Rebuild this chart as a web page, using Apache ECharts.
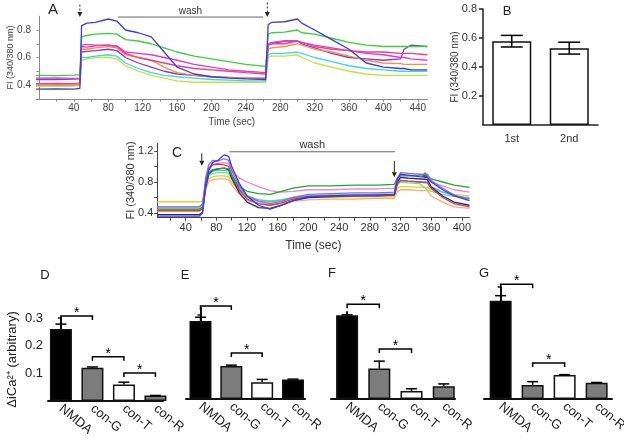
<!DOCTYPE html>
<html><head><meta charset="utf-8">
<script src="https://cdn.jsdelivr.net/npm/echarts@6/dist/echarts.min.js"></script>
<style>html,body{margin:0;padding:0;background:#fff}#c{width:624px;height:440px}</style>
</head><body><div id="c"></div>
<script>
// ---------- Panel A : time courses ----------
const tA = [-4, 20, 40, 47, 49, 55, 65, 80, 90, 100, 115, 130, 145, 160, 180, 200, 220, 240, 263, 266, 270, 285, 300, 305, 320, 340, 360, 380, 400, 420, 424, 432, 451];
const aBlue    = [0.37,0.372,0.37,0.375, 0.83,0.85,0.855,0.88,0.865,0.80,0.78,0.75,0.64,0.53,0.48,0.46,0.45,0.445,0.44, 0.84,0.855,0.86,0.88,0.85,0.80,0.73,0.66,0.56,0.53,0.52,0.52,0.51,0.51];
const aGreen   = [0.47,0.468,0.472,0.475, 0.75,0.76,0.77,0.775,0.77,0.73,0.72,0.70,0.67,0.64,0.61,0.59,0.57,0.55,0.535, 0.77,0.78,0.785,0.80,0.78,0.77,0.74,0.71,0.69,0.68,0.68,0.68,0.68,0.68];
const aMagenta = [0.45,0.452,0.448,0.45, 0.69,0.695,0.69,0.69,0.685,0.64,0.63,0.62,0.60,0.58,0.55,0.53,0.51,0.50,0.49, 0.70,0.71,0.72,0.72,0.71,0.69,0.67,0.65,0.63,0.62,0.60,0.60,0.59,0.58];
const aRed     = [0.41,0.412,0.41,0.415, 0.68,0.675,0.685,0.69,0.68,0.63,0.60,0.58,0.56,0.54,0.52,0.51,0.50,0.49,0.48, 0.69,0.70,0.70,0.72,0.71,0.68,0.66,0.65,0.64,0.64,0.63,0.63,0.63,0.62];
const aOrange  = [0.40,0.402,0.40,0.405, 0.66,0.66,0.67,0.68,0.67,0.62,0.60,0.58,0.53,0.49,0.47,0.46,0.455,0.45,0.45, 0.66,0.67,0.68,0.70,0.69,0.66,0.64,0.61,0.58,0.56,0.555,0.55,0.55,0.55];
const aPurple  = [0.44,0.44,0.442,0.445, 0.64,0.645,0.65,0.66,0.65,0.60,0.56,0.53,0.50,0.48,0.47,0.46,0.455,0.45,0.45, 0.69,0.70,0.72,0.72,0.70,0.67,0.63,0.60,0.59,0.58,0.59,0.66,0.69,0.68];
const aCyan    = [0.40,0.398,0.40,0.402, 0.60,0.60,0.61,0.62,0.61,0.56,0.52,0.49,0.47,0.46,0.45,0.44,0.435,0.43,0.43, 0.62,0.63,0.63,0.64,0.63,0.60,0.57,0.54,0.52,0.51,0.50,0.50,0.50,0.50];
const aYellow  = [0.39,0.39,0.392,0.395, 0.58,0.59,0.60,0.60,0.59,0.54,0.50,0.47,0.45,0.43,0.42,0.42,0.42,0.42,0.42, 0.60,0.61,0.61,0.62,0.60,0.56,0.53,0.50,0.48,0.47,0.47,0.47,0.47,0.47];
const aXLabels = [40,80,120,160,200,240,280,320,360,400,440];
const aYLabels = [0.4,0.6,0.8];
const aArrows = [[47,0.985,0.895,1],[265,1.0,0.895,1]];
const aWash = [[91,260,0.894]];

// ---------- Panel B ----------
const bCats = ['1st','2nd'];
const bMeans = [0.578, 0.530];
const bErr = [0.04, 0.041];
const bYLabels = [0.2,0.4,0.6,0.8];

// ---------- Panel C ----------
const tC = [3, 30, 58, 62, 66, 70, 75, 82, 90, 96, 100, 110, 120, 135, 150, 165, 180, 200, 230, 260, 290, 312, 316, 320, 330, 345, 355, 360, 375, 390, 410];
const cBlue   = [0.36,0.36,0.36,0.40,0.75,0.95,1.05,1.08,1.15,1.13,1.00,0.78,0.62,0.50,0.45,0.50,0.56,0.61,0.62,0.63,0.63,0.64,0.84,0.90,0.89,0.87,0.86,0.80,0.70,0.62,0.56];
const cViolet = [0.48,0.48,0.48,0.52,0.85,1.02,1.08,1.07,1.10,1.08,0.95,0.75,0.62,0.55,0.52,0.55,0.60,0.64,0.65,0.66,0.66,0.67,0.85,0.92,0.91,0.90,0.90,0.82,0.72,0.63,0.58];
const cPink   = [0.45,0.45,0.45,0.48,0.78,0.95,1.02,1.04,1.05,1.04,0.95,0.85,0.80,0.74,0.69,0.67,0.68,0.70,0.70,0.71,0.71,0.72,0.82,0.86,0.85,0.84,0.84,0.80,0.75,0.70,0.67];
const cRed    = [0.43,0.43,0.43,0.46,0.80,0.98,1.02,1.03,1.02,1.00,0.90,0.70,0.58,0.52,0.50,0.53,0.58,0.61,0.62,0.62,0.63,0.63,0.78,0.82,0.81,0.80,0.79,0.72,0.60,0.52,0.48];
const cGreen  = [0.45,0.45,0.45,0.48,0.78,0.92,0.96,0.97,0.98,0.97,0.88,0.74,0.68,0.65,0.64,0.68,0.72,0.75,0.75,0.76,0.76,0.77,0.85,0.88,0.88,0.88,0.88,0.84,0.80,0.76,0.73];
const cCyan   = [0.48,0.48,0.48,0.51,0.78,0.90,0.94,0.95,0.95,0.94,0.86,0.72,0.62,0.57,0.55,0.57,0.60,0.62,0.63,0.63,0.64,0.64,0.78,0.82,0.81,0.80,0.80,0.74,0.67,0.62,0.59];
const cYellow = [0.545,0.545,0.545,0.56,0.74,0.84,0.87,0.88,0.88,0.87,0.80,0.68,0.60,0.57,0.56,0.57,0.58,0.60,0.60,0.61,0.61,0.61,0.72,0.74,0.74,0.73,0.73,0.70,0.67,0.64,0.62];
const cOrange = [0.42,0.42,0.42,0.45,0.70,0.80,0.83,0.84,0.84,0.83,0.76,0.64,0.56,0.52,0.50,0.52,0.55,0.57,0.58,0.58,0.59,0.59,0.68,0.70,0.70,0.69,0.69,0.62,0.54,0.48,0.46];
const cLime   = [0.44,0.44,0.44,0.47,0.76,0.88,0.91,0.92,0.92,0.91,0.84,0.70,0.60,0.55,0.54,0.56,0.59,0.62,0.63,0.64,0.64,0.65,0.76,0.80,0.79,0.78,0.70,0.68,0.64,0.61,0.60];
const cNavy   = [0.38,0.38,0.38,0.41,0.72,0.90,0.95,0.97,0.98,0.96,0.85,0.66,0.54,0.47,0.46,0.50,0.56,0.60,0.61,0.62,0.62,0.63,0.80,0.86,0.85,0.84,0.83,0.74,0.62,0.54,0.50];
const cXLabels = [40,80,120,160,200,240,280,320,360,400];
const cYLabels = [0.4,0.8,1.2];
const cArrows = [[61,1.17,1.01,0],[312,1.07,0.86,0],[352,0.84,0.93,0]];
const cWash = [[97,313,1.19]];

// ---------- Panels D-G ----------
const barCats = ['NMDA','con-G','con-T','con-R'];
const dVals = [0.26, 0.12, 0.06, 0.02];   const dErr = [0.018, 0.003, 0.008, 0];
const eVals = [0.279, 0.118, 0.06, 0.07]; const eErr = [0.013, 0.003, 0.01, 0.001];
const fVals = [0.327, 0.119, 0.031, 0.05]; const fErr = [0.002, 0.029, 0.009, 0.009];
const gVals = [0.351, 0.05, 0.086, 0.058]; const gErr = [0.018, 0.012, 0.001, 0.001];
const dSig = [[0,1,0.307],[1,2,0.16],[2,3,0.101]];
const eSig = [[0,1,0.332],[1,2,0.164]];
const fSig = [[0,1,0.37],[1,2,0.195]];
const gSig = [[0,1,0.41],[1,2,0.129]];
const dFill = ['#000000','#7c7c7c','#ffffff','#7c7c7c'];
const eFill = ['#000000','#7c7c7c','#ffffff','#000000'];
const fFill = ['#000000','#7c7c7c','#ffffff','#7c7c7c'];
const gFill = ['#000000','#7c7c7c','#ffffff','#7c7c7c'];

const FONT = 'Liberation Sans, Arial, sans-serif';
const chart = echarts.init(document.getElementById('c'), null, {renderer:'canvas'});

function arrowItem(params, api){
  const p1 = api.coord([api.value(0), api.value(1)]);
  const p2 = api.coord([api.value(0), api.value(2)]);
  const dashed = api.value(3) === 1;
  const dir = p2[1] > p1[1] ? 1 : -1;
  const h = 5, w = 2.5;
  return {type:'group', children:[
    {type:'line', shape:{x1:p1[0],y1:p1[1],x2:p2[0],y2:p2[1]-dir*h}, style:{stroke:'#222', lineWidth:1, lineDash: dashed ? [2,2] : null}},
    {type:'polygon', shape:{points:[[p2[0]-w,p2[1]-dir*h],[p2[0]+w,p2[1]-dir*h],[p2[0],p2[1]]]}, style:{fill:'#222'}}
  ]};
}
function washFactory(fs){
  return function(params, api){
    const p1 = api.coord([api.value(0), api.value(2)]);
    const p2 = api.coord([api.value(1), api.value(2)]);
    return {type:'group', children:[
      {type:'line', shape:{x1:p1[0],y1:p1[1],x2:p2[0],y2:p2[1]}, style:{stroke:'#666', lineWidth:1}},
      {type:'text', x:(p1[0]+p2[0])/2, y:p1[1]-1, style:{text:'wash', font: fs+'px '+FONT, align:'center', verticalAlign:'bottom', textAlign:'center', textVerticalAlign:'bottom', fill:'#333'}}
    ]};
  };
}
function errFactory(capW, both){
  return function(params, api){
    const x = api.value(0), v = api.value(1), e = api.value(2);
    const top = api.coord([x, v + e]);
    const bot = api.coord([x, both ? v - e : v]);
    const ch = [
      {type:'line', shape:{x1:top[0],y1:top[1],x2:bot[0],y2:bot[1]}, style:{stroke:'#000', lineWidth:1.5}},
      {type:'line', shape:{x1:top[0]-capW/2,y1:top[1],x2:top[0]+capW/2,y2:top[1]}, style:{stroke:'#000', lineWidth:1.5}}
    ];
    if (both) ch.push({type:'line', shape:{x1:bot[0]-capW/2,y1:bot[1],x2:bot[0]+capW/2,y2:bot[1]}, style:{stroke:'#000', lineWidth:1.5}});
    return {type:'group', children: ch};
  };
}
function bracketItem(params, api){
  const y = api.value(2);
  const p1 = api.coord([api.value(0), y]);
  const p2 = api.coord([api.value(1), y]);
  const d = 4;
  return {type:'group', children:[
    {type:'polyline', shape:{points:[[p1[0],p1[1]+d],[p1[0],p1[1]],[p2[0],p2[1]],[p2[0],p2[1]+d]]}, style:{stroke:'#000', lineWidth:1.5, fill:null}},
    {type:'text', x:(p1[0]+p2[0])/2, y:p1[1]-3, style:{text:'*', font:'14px '+FONT, align:'center', verticalAlign:'middle', textAlign:'center', textVerticalAlign:'middle', fill:'#000'}}
  ]};
}

const gridBase = {containLabel:false, outerBoundsMode:'none'};
const grids = [
  Object.assign({left:36, top:16.25, width:391.3, height:82.5}, gridBase),   // A
  Object.assign({left:483, top:9, width:115, height:116}, gridBase),          // B
  Object.assign({left:157.3, top:143.25, width:312.2, height:74.4}, gridBase),// C
  Object.assign({left:48, top:318, width:115, height:83}, gridBase),          // D
  Object.assign({left:186, top:308, width:119, height:91}, gridBase),         // E
  Object.assign({left:331, top:312, width:124, height:87}, gridBase),         // F
  Object.assign({left:484, top:287, width:128, height:112}, gridBase)         // G
];

const xAxes = [];
const yAxes = [];
// A
xAxes.push({gridIndex:0, type:'value', min:-4, max:451,
  axisLine:{lineStyle:{color:'#8a8a8a', width:1}}, splitLine:{show:false},
  axisTick:{customValues:[20,40,60,80,100,120,140,160,180,200,220,240,260,280,300,320,340,360,380,400,420,440], length:3, lineStyle:{color:'#8a8a8a'}},
  axisLabel:{customValues:aXLabels, fontSize:10, color:'#444', margin:4, fontFamily:FONT},
  name:'Time (sec)', nameLocation:'middle', nameGap:18, nameMoveOverlap:false, nameTextStyle:{fontSize:10, color:'#444', fontFamily:FONT}});
yAxes.push({gridIndex:0, type:'value', min:0.3, max:0.9,
  axisLine:{show:true, lineStyle:{color:'#8a8a8a', width:1}}, splitLine:{show:false},
  axisTick:{show:true, customValues:[0.3,0.4,0.5,0.6,0.7,0.8], length:3, lineStyle:{color:'#8a8a8a'}},
  axisLabel:{customValues:aYLabels, fontSize:10, color:'#444', margin:5, fontFamily:FONT, formatter:v=>v.toFixed(1)},
  name:'FI (340/380 nm)', nameLocation:'middle', nameGap:21, nameMoveOverlap:false, nameTextStyle:{fontSize:9, color:'#444', fontFamily:FONT}});
// B
xAxes.push({gridIndex:1, type:'category', data:bCats,
  axisLine:{lineStyle:{color:'#222', width:1.5}}, axisTick:{show:false},
  axisLabel:{fontSize:11, color:'#333', margin:8, fontFamily:FONT}});
yAxes.push({gridIndex:1, type:'value', min:0, max:0.8,
  axisLine:{show:true, lineStyle:{color:'#222', width:1.5}}, splitLine:{show:false},
  axisTick:{show:true, customValues:bYLabels, length:4, lineStyle:{color:'#222', width:1.5}},
  axisLabel:{customValues:bYLabels, fontSize:11, color:'#333', margin:6, fontFamily:FONT, formatter:v=>v.toFixed(1)},
  name:'FI (340/380 nm)', nameLocation:'middle', nameGap:23, nameMoveOverlap:false, nameTextStyle:{fontSize:10, color:'#333', fontFamily:FONT}});
// C
xAxes.push({gridIndex:2, type:'value', min:3, max:410,
  axisLine:{lineStyle:{color:'#444', width:1}}, splitLine:{show:false},
  axisTick:{customValues:[20,40,60,80,100,120,140,160,180,200,220,240,260,280,300,320,340,360,380,400], length:3, lineStyle:{color:'#444'}},
  axisLabel:{customValues:cXLabels, fontSize:11, color:'#333', margin:5, fontFamily:FONT},
  name:'Time (sec)', nameLocation:'middle', nameGap:22, nameMoveOverlap:false, nameTextStyle:{fontSize:12, color:'#333', fontFamily:FONT}});
yAxes.push({gridIndex:2, type:'value', min:0.34, max:1.3,
  axisLine:{show:true, lineStyle:{color:'#444', width:1}}, splitLine:{show:false},
  axisTick:{show:true, customValues:[0.4,0.6,0.8,1.0,1.2], length:3, lineStyle:{color:'#444'}},
  axisLabel:{customValues:cYLabels, fontSize:11, color:'#333', margin:4, fontFamily:FONT, formatter:v=>v.toFixed(1)},
  name:'FI (340/380 nm)', nameLocation:'middle', nameGap:21, nameMoveOverlap:false, nameTextStyle:{fontSize:11, color:'#333', fontFamily:FONT}});
// D-G
const barPanels = [
  {min:-0.41, max:3.24, ymax:0.3, ticks:[0.1,0.2,0.3], labels:true},
  {min:-0.47, max:3.39, ymax:0.325, ticks:[0.1,0.2,0.3], labels:false},
  {min:-0.5, max:3.35, ymax:0.34, ticks:[0.1,0.2,0.3], labels:false},
  {min:-0.52, max:3.48, ymax:0.4, ticks:[0.1,0.2,0.3,0.4], labels:false}
];
barPanels.forEach((p, i) => {
  const g = 3 + i;
  xAxes.push({gridIndex:g, type:'value', min:p.min, max:p.max,
    axisLine:{lineStyle:{color:'#111', width:2}}, splitLine:{show:false}, axisTick:{show:false},
    axisLabel:{customValues:[0,1,2,3], formatter:v=>barCats[Math.round(v)], rotate:-40, fontSize:13, color:'#222', margin:6, fontFamily:FONT}});
  const ya = {gridIndex:g, type:'value', min:0, max:p.ymax,
    axisLine:{show:true, lineStyle:{color:'#111', width:2}}, splitLine:{show:false},
    axisTick:{show:true, customValues:p.ticks, length:3, lineStyle:{color:'#111', width:1.5}},
    axisLabel:{show:p.labels, customValues:p.ticks, fontSize:13, color:'#222', margin:5, fontFamily:FONT, formatter:v=>v.toFixed(1)}};
  if (p.labels) {
    ya.name = 'ΔiCa²⁺ (arbitrary)';
    ya.nameLocation = 'middle'; ya.nameGap = 29; ya.nameMoveOverlap = false;
    ya.nameTextStyle = {fontSize:13, color:'#222', fontFamily:FONT};
  }
  yAxes.push(ya);
});

const series = [];
const aLines = [[aYellow,'#c3e33a'],[aCyan,'#3fd6ea'],[aPurple,'#8a36cf'],[aOrange,'#f3913c'],[aRed,'#f0407e'],[aMagenta,'#e03ad6'],[aGreen,'#3ccf3c'],[aBlue,'#3c3cd8']];
aLines.forEach(([arr,col]) => series.push({type:'line', xAxisIndex:0, yAxisIndex:0, showSymbol:false, silent:true,
  data: tA.map((t,i)=>[t, arr[i]]), lineStyle:{color:col, width:1.3}, itemStyle:{color:col}}));
series.push({type:'custom', xAxisIndex:0, yAxisIndex:0, clip:false, silent:true, renderItem:arrowItem, data:aArrows, encode:{x:0, y:[1,2]}});
series.push({type:'custom', xAxisIndex:0, yAxisIndex:0, clip:false, silent:true, renderItem:washFactory(10), data:aWash, encode:{x:[0,1], y:2}});

series.push({type:'bar', xAxisIndex:1, yAxisIndex:1, barWidth:39, silent:true, data:bMeans,
  itemStyle:{color:'#ffffff', borderColor:'#111', borderWidth:1.5}});
series.push({type:'custom', xAxisIndex:1, yAxisIndex:1, clip:false, silent:true, renderItem:errFactory(22, true),
  data:bMeans.map((v,i)=>[i, v, bErr[i]]), encode:{x:0, y:1}, z:5});

const cLines = [[cOrange,'#f6b070'],[cYellow,'#e8cc36'],[cLime,'#78e078'],[cCyan,'#3cc4ea'],[cPink,'#ee82dc'],[cNavy,'#262690'],[cRed,'#e23434'],[cGreen,'#22a82a'],[cViolet,'#8a68ea'],[cBlue,'#3c3ce0']];
cLines.forEach(([arr,col]) => series.push({type:'line', xAxisIndex:2, yAxisIndex:2, showSymbol:false, silent:true,
  data: tC.map((t,i)=>[t, arr[i]]), lineStyle:{color:col, width:1.3}, itemStyle:{color:col}}));
series.push({type:'custom', xAxisIndex:2, yAxisIndex:2, clip:false, silent:true, renderItem:arrowItem, data:cArrows, encode:{x:0, y:[1,2]}});
series.push({type:'custom', xAxisIndex:2, yAxisIndex:2, clip:false, silent:true, renderItem:washFactory(11), data:cWash, encode:{x:[0,1], y:2}});

const barData = [[dVals,dErr,dSig,dFill],[eVals,eErr,eSig,eFill],[fVals,fErr,fSig,fFill],[gVals,gErr,gSig,gFill]];
barData.forEach(([vals, errs, sig, fill], i) => {
  const ax = 3 + i;
  series.push({type:'bar', xAxisIndex:ax, yAxisIndex:ax, barWidth:22, silent:true,
    data: vals.map((v,k)=>({value:[k, v], itemStyle:{color:fill[k], borderColor:'#111', borderWidth:1.5}}))});
  series.push({type:'custom', xAxisIndex:ax, yAxisIndex:ax, clip:false, silent:true, renderItem:errFactory(11, false),
    data: vals.map((v,k)=>[k, v, errs[k]]), encode:{x:0, y:1}, z:5});
  series.push({type:'custom', xAxisIndex:ax, yAxisIndex:ax, clip:false, silent:true, renderItem:bracketItem,
    data: sig, encode:{x:[0,1], y:2}, z:5});
});

const letters = [['A',53,10,15],['B',507,11,13],['C',177,153,14],['D',45,275,13],['E',185,275,13],['F',332,273,13],['G',484,273,13]];
const graphic = letters.map(([t,x,y,fs]) => ({type:'text', x:x, y:y,
  style:{text:t, font:fs+'px '+FONT, fill:'#222', align:'center', verticalAlign:'middle', textAlign:'center', textVerticalAlign:'middle'}}));

chart.setOption({
  animation:false,
  backgroundColor:'#ffffff',
  textStyle:{fontFamily:FONT},
  grid: grids,
  xAxis: xAxes,
  yAxis: yAxes,
  series: series,
  graphic: graphic
});
</script></body></html>
